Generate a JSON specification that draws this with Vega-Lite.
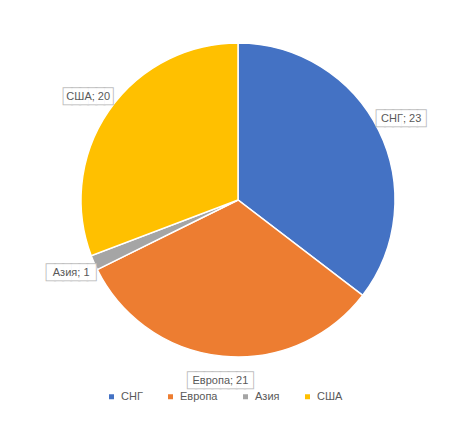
{
  "$schema": "https://vega.github.io/schema/vega-lite/v6.json",
  "width": 466,
  "height": 390,
  "padding": {"left": 5, "top": 5, "right": 0, "bottom": 44},
  "autosize": {"type": "none"},
  "background": "white",
  "view": {"stroke": null},
  "config": {"font": "Liberation Sans"},
  "data": {
    "values": [
      {"region": "СНГ", "value": 23},
      {"region": "Европа", "value": 21},
      {"region": "Азия", "value": 1},
      {"region": "США", "value": 20}
    ]
  },
  "transform": [
    {"calculate": "datum.region + '; ' + datum.value", "as": "label"},
    {"calculate": "indexof(['СНГ','Европа','Азия','США'], datum.region)", "as": "idx"},
    {"calculate": "pad('', round(length(datum.label) * 0.8), '█', 'left')", "as": "box"}
  ],
  "encoding": {
    "theta": {"field": "value", "type": "quantitative", "stack": true},
    "order": {"field": "idx", "type": "quantitative", "sort": "ascending"}
  },
  "layer": [
    {
      "mark": {"type": "arc", "outerRadius": 157, "stroke": "white", "strokeWidth": 1.5},
      "encoding": {
        "color": {
          "field": "region",
          "type": "nominal",
          "scale": {"domain": ["СНГ", "Европа", "Азия", "США"], "range": ["#4472C4", "#ED7D31", "#A5A5A5", "#FFC000"]},
          "legend": {
            "title": null,
            "orient": "none",
            "legendX": 101,
            "legendY": 386,
            "direction": "horizontal",
            "symbolType": "square",
            "symbolSize": 25,
            "symbolStrokeWidth": 0,
            "labelFontSize": 11,
            "labelColor": "#595959",
            "labelOffset": 4,
            "columnPadding": 22
          }
        }
      }
    },
    {
      "mark": {"type": "text", "radius": 182, "font": "DejaVu Sans Mono", "fontSize": 13.5, "fill": "white", "stroke": "#BFBFBF", "strokeWidth": 2, "align": "center", "baseline": "middle"},
      "encoding": {"text": {"field": "box"}}
    },
    {
      "mark": {"type": "text", "radius": 182, "font": "DejaVu Sans Mono", "fontSize": 13.5, "fill": "white", "align": "center", "baseline": "middle"},
      "encoding": {"text": {"field": "box"}}
    },
    {
      "mark": {"type": "text", "radius": 182, "fontSize": 11, "fill": "#595959", "align": "center", "baseline": "middle"},
      "encoding": {"text": {"field": "label"}}
    }
  ]
}
